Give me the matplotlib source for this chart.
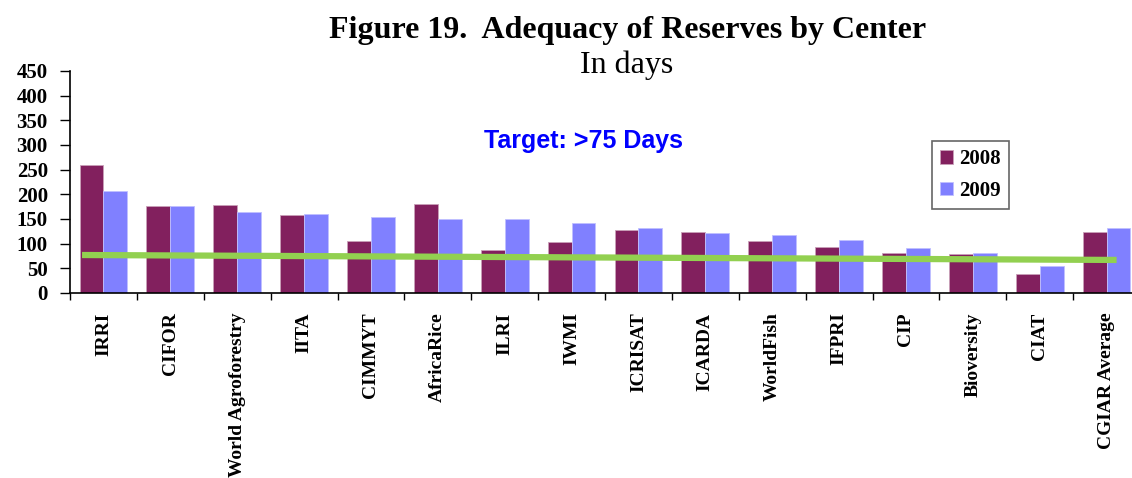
#!/usr/bin/env python3
import numpy as np
import matplotlib
matplotlib.use('Agg')
import matplotlib.pyplot as plt

centers = ['IRRI', 'CIFOR', 'World Agroforestry', 'IITA', 'CIMMYT', 'AfricaRice',
           'ILRI', 'IWMI', 'ICRISAT', 'ICARDA', 'WorldFish', 'IFPRI', 'CIP',
           'Bioversity', 'CIAT', 'CGIAR Average']
days_2008 = [259, 176, 178, 158, 105, 180, 88, 103, 128, 124, 105, 93, 82, 80, 38, 123]
days_2009 = [206, 176, 164, 160, 154, 151, 151, 141, 132, 121, 117, 108, 91, 82, 55, 132]
# green reference line, start and end value as drawn
target_line = [77, 67]

plt.rcParams['font.family'] = ['Liberation Serif', 'DejaVu Serif']
plt.rcParams['font.weight'] = 'bold'

fig = plt.figure(figsize=(11.32, 4.78), dpi=100)
ax = fig.add_axes([70 / 1132, 185 / 478, 1070 / 1132, 222 / 478])

x = np.arange(len(centers))
w = 0.357
ax.bar(x - w / 2, days_2008, width=w, color='#82205E', edgecolor='#C9A0B8',
       linewidth=0.6, label='2008', zorder=2)
ax.bar(x + w / 2, days_2009, width=w, color='#8080FF', edgecolor='#C0C0FF',
       linewidth=0.6, label='2009', zorder=2)

ax.plot([-0.32, 15.15], target_line, color='#92D050',
        linewidth=4.5, solid_capstyle='butt', zorder=3)

ax.set_xlim(-0.5, len(centers) - 0.5)
ax.set_ylim(0, 450)
ax.set_yticks(np.arange(0, 451, 50))
ax.tick_params(axis='y', length=7, width=1, pad=9, labelsize=15)

ax.set_xticks(x)
ax.set_xticklabels(centers, rotation=90, va='top', ha='center', fontsize=14)
ax.tick_params(axis='x', which='major', length=0, pad=14)
ax.set_xticks(np.arange(-0.5, len(centers), 1), minor=True)
ax.tick_params(axis='x', which='minor', length=5, width=1)

for s in ['top', 'right']:
    ax.spines[s].set_visible(False)
for s in ['left', 'bottom']:
    ax.spines[s].set_linewidth(1.2)

leg = ax.legend(loc='upper left', bbox_to_anchor=(932 / 1132, 1 - 141 / 478),
                bbox_transform=fig.transFigure,
                prop={'size': 15, 'weight': 'bold'},
                frameon=True, fancybox=False, edgecolor='#404040',
                handlelength=0.6, handleheight=0.6, handletextpad=0.3,
                labelspacing=0.55, borderpad=0.4, borderaxespad=0)
leg.get_frame().set_linewidth(1.2)

fig.text(628 / 1132, 1 - 38 / 478, 'Figure 19.  Adequacy of Reserves by Center',
         ha='center', va='baseline', fontsize=23)
fig.text(627 / 1132, 1 - 73 / 478, 'In days', ha='center', va='baseline',
         fontsize=23, fontweight='normal')
fig.text(584 / 1132, 1 - 148 / 478, 'Target: >75 Days', ha='center', va='baseline',
         color='#0000FF', fontfamily='Liberation Sans', fontweight='bold', fontsize=18)

fig.savefig('out.png', dpi=100)
